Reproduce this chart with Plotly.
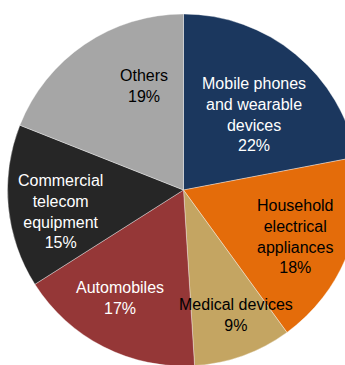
import math
import plotly.graph_objects as go

categories = ["Mobile phones<br>and wearable<br>devices", "Household<br>electrical<br>appliances",
              "Medical devices", "Automobiles", "Commercial<br>telecom<br>equipment", "Others"]
values = [22, 18, 9, 17, 15, 19]
colors = ["#1B375E", "#E46C0A", "#C4A562", "#953737", "#262626", "#A6A6A6"]
text_colors = ["white", "black", "black", "white", "white", "black"]
# label placement tweaks (radial fraction of radius, angular nudge in degrees)
label_r = [0.59, 0.69, 0.77, 0.71, 0.71, 0.63]
label_dang = [3.4, 1.0, -3.0, 3.6, -4.3, 13.2]

W, H = 368, 366
R = 176
cx_px, cy_px = 183.5, 190

fig = go.Figure(go.Pie(
    labels=categories, values=values, sort=False, direction="clockwise", rotation=0,
    marker=dict(colors=colors, line=dict(color="rgba(255,255,255,0.6)", width=0.6)),
    textinfo="none", hoverinfo="label+percent", showlegend=False,
    domain=dict(x=[(cx_px - R) / W, (cx_px + R) / W], y=[(H - cy_px - R) / H, (H - cy_px + R) / H]),
))

total = sum(values)
cum = 0
for i, (lab, v) in enumerate(zip(categories, values)):
    mid = (cum + v / 2) / total * 360 + label_dang[i]
    cum += v
    r = label_r[i] * R
    px = cx_px + r * math.sin(math.radians(mid))
    py = cy_px - r * math.cos(math.radians(mid))
    pct = round(v / total * 100)
    fig.add_annotation(x=px / W, y=1 - py / H, xref="paper", yref="paper",
                       text=f"{lab}<br>{pct}%", showarrow=False,
                       font=dict(family="Liberation Sans, Arial", size=16, color=text_colors[i]),
                       align="center", xanchor="center", yanchor="middle")

fig.update_layout(width=W, height=H, margin=dict(l=0, r=0, t=0, b=0),
                  paper_bgcolor="white", plot_bgcolor="white")

fig.write_html("out.html", post_script="document.body.style.margin='0';document.body.style.overflow='hidden';")
